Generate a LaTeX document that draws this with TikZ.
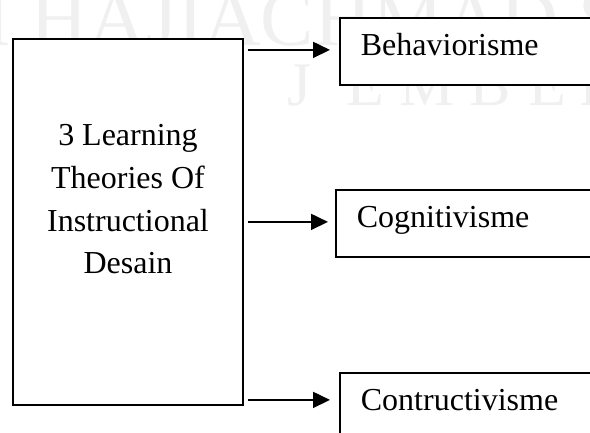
\documentclass[tikz,border=0pt]{standalone}
\usepackage{fontspec}
\setmainfont{Liberation Serif}
\usetikzlibrary{arrows.meta,calc}
\begin{document}
\begin{tikzpicture}[x=1pt,y=1pt,
  frame/.style={draw=black, line width=1.8pt, fill=white},
  arr/.style={draw=black, line width=1.8pt, -{Triangle[length=17pt,width=16pt]}},
  lbl/.style={font=\fontsize{32}{42.7}\selectfont},
  wmtop/.style={text=black!6, inner sep=0, anchor=base west, font=\fontsize{80}{80}\selectfont},
  wmbot/.style={text=black!6, inner sep=0, anchor=base, font=\fontsize{62}{62}\selectfont}]
\useasboundingbox (0,0) rectangle (590,-432);
% watermark
\node[wmtop] (wmA) at (-16,-45) {I HAJI};
\node[wmtop] (wmB) at (203,-45) {ACHMAD S};
\node[wmbot] (wmJ) at (300,-105) {J};
\node[wmbot] (wmE1) at (365,-105) {E};
\node[wmbot] (wmM) at (427,-105) {M};
\node[wmbot] (wmB2) at (490,-105) {B};
\node[wmbot] (wmE2) at (547,-105) {E};
\node[wmbot] (wmR) at (600,-105) {R};
% main box
\node[frame, minimum width=230pt, minimum height=366pt, inner sep=0] (main) at (128,-222) {};
\node[lbl, align=center, anchor=north, inner sep=0] (mainlbl) at ([yshift=-86.4pt]main.north)
  {3 Learning\\Theories Of\\Instructional\\Desain};
% right boxes
\tikzset{rbox/.style={frame, lbl, anchor=north west, inner xsep=21pt, inner ysep=0pt,
  text width=229pt, align=left, text height=38pt, text depth=29pt}}
\node[rbox] (beh) at (339,-17) {Behaviorisme};
\node[rbox] (cog) at (335,-189) {Cognitivisme};
\node[rbox] (con) at (339,-372) {Contructivisme};
% arrows
\draw[arr] ($(main.east |- beh.west)+(4,1.5)$) -- ($(beh.west)+(-9,1.5)$);
\draw[arr] ($(main.east |- cog.west)+(4,1.5)$) -- ($(cog.west)+(-7,1.5)$);
\draw[arr] ($(main.south east)+(4,6)$) -- ($(main.south east -| con.west)+(-9,6)$);
\end{tikzpicture}
\end{document}
